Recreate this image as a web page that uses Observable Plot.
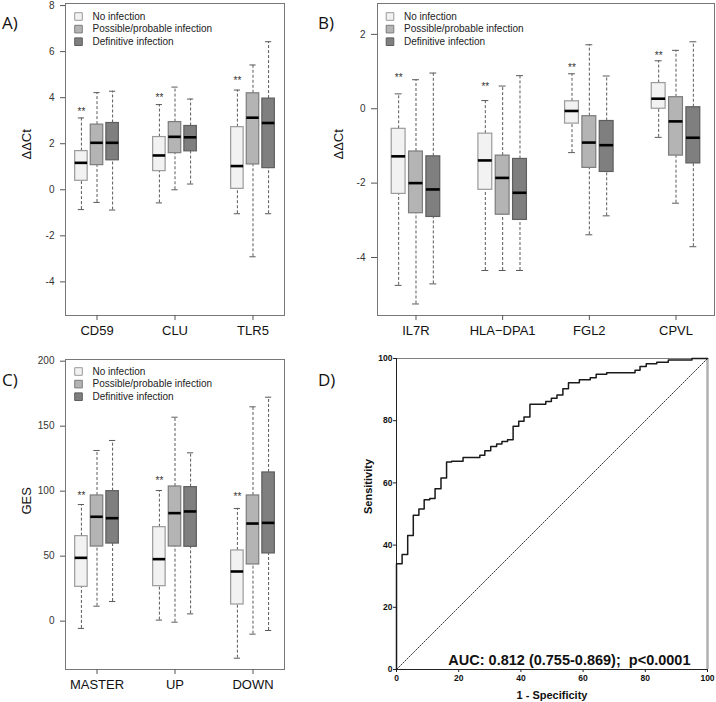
<!DOCTYPE html>
<html>
<head>
<meta charset="utf-8">
<script src="https://cdn.jsdelivr.net/npm/d3@7"></script>
<script src="https://cdn.jsdelivr.net/npm/@observablehq/plot@0.6"></script>
<style>
  html, body { margin: 0; padding: 0; background: #fff; }
  #page { position: relative; width: 716px; height: 702px; background: #fff; overflow: hidden; }
  .panel { position: absolute; }
  .plabel { position: absolute; font-family: "Open Sans", "Noto Sans", sans-serif; font-size: 17px; color: #111; line-height: 1; }
</style>
</head>
<body>
<div id="page"></div>
<script>
// ---------- data ----------
const groups = ["No infection", "Possible/probable infection", "Definitive infection"];
const groupFill = ["#f2f2f2", "#b4b4b4", "#7f7f7f"];
const groupBorder = ["#9a9a9a", "#7c7c7c", "#5e5e5e"];

// Panel A (gene-major, groups in order)
const genesA = ["CD59", "CLU", "TLR5"];
const aMin = [-0.86, -0.55, -0.88, -0.57, 0.00, 0.25, -1.04, -2.91, -1.04];
const aQ1  = [0.39, 1.07, 1.28, 0.81, 1.59, 1.67, 0.04, 1.10, 0.94];
const aMed = [1.17, 2.04, 2.04, 1.49, 2.30, 2.28, 1.03, 3.13, 2.90];
const aQ3  = [1.68, 2.83, 2.90, 2.29, 2.94, 2.77, 2.72, 4.19, 3.96];
const aMax = [3.12, 4.22, 4.28, 3.70, 4.46, 3.94, 4.33, 5.42, 6.43];
const aStar = [3.52, 4.13, 4.87];
const aTicks = [-4, -2, 0, 2, 4, 6, 8];

// Panel B
const genesB = ["IL7R", "HLA\u2212DPA1", "FGL2", "CPVL"];
const bMin = [-4.75, -5.25, -4.71, -4.35, -4.35, -4.35, -1.18, -3.39, -2.88, -0.77, -2.54, -3.71];
const bQ1  = [-2.29, -2.81, -2.91, -2.18, -2.85, -2.99, -0.40, -1.59, -1.70, 0.00, -1.26, -1.47];
const bMed = [-1.28, -2.00, -2.17, -1.39, -1.86, -2.26, -0.06, -0.91, -0.98, 0.27, -0.34, -0.78];
const bQ3  = [-0.54, -1.15, -1.28, -0.67, -1.26, -1.35, 0.20, -0.20, -0.33, 0.69, 0.31, 0.04];
const bMax = [0.40, 0.78, 0.96, 0.22, 0.61, 0.89, 0.94, 1.72, 0.88, 1.29, 1.57, 1.80];
const bStar = [0.92, 0.67, 1.17, 1.51];
const bTicks = [-4, -2, 0, 2];

// Panel C
const genesC = ["MASTER", "UP", "DOWN"];
const cMin = [-5.6, 11.5, 15.1, 0.8, -0.8, 5.6, -28.5, -10.0, -7.2];
const cQ1  = [26.4, 57.4, 59.7, 26.9, 57.4, 57.2, 12.8, 43.6, 52.1];
const cMed = [48.7, 80.3, 79.2, 47.7, 83.1, 84.4, 38.2, 75.1, 75.6];
const cQ3  = [65.4, 96.7, 100.0, 72.3, 103.6, 103.1, 54.4, 96.7, 114.4];
const cMax = [89.7, 131.3, 139.0, 100.5, 156.9, 129.5, 86.7, 164.9, 172.3];
const cStar = [98.7, 110.3, 97.9];
const cTicks = [0, 50, 100, 150, 200];

// Panel D (ROC step vertices)
const rocFpr = [0, 0, 1.8, 3.6, 5.4, 7.2, 8.9, 10.7, 12.4, 14.3, 16.1, 17.7, 21.4, 26.8, 28.4, 30.3, 32.2, 33.9, 35.7, 37.5, 39.3, 41.0, 42.9, 48.0, 49.8, 51.6, 53.5, 55.3, 58.8, 62.3, 64.2, 67.6, 76.7, 78.3, 80.3, 83.7, 87.4, 95.0, 100];
const rocTpr = [0, 34.0, 37.0, 43.1, 49.6, 51.6, 54.6, 55.0, 58.1, 61.6, 66.7, 67.0, 68.2, 68.9, 70.3, 71.7, 72.5, 73.3, 73.9, 78.2, 79.8, 81.2, 85.3, 86.2, 87.2, 88.3, 90.3, 92.2, 93.2, 93.8, 94.9, 95.4, 96.2, 97.4, 98.3, 98.8, 99.5, 100, 100];
const diag = [0, 100];
const dTicks = [0, 20, 40, 60, 80, 100];
const aucText = "AUC: 0.812 (0.755-0.869);  p<0.0001";

// ---------- helpers ----------
const FONT = "'Liberation Sans', Arial, Helvetica, sans-serif";
const page = document.getElementById("page");

function place(el, left, top) {
  const wrap = document.createElement("div");
  wrap.className = "panel";
  wrap.style.left = left + "px";
  wrap.style.top = top + "px";
  wrap.appendChild(el);
  page.appendChild(wrap);
}
function label(txt, left, top) {
  const d = document.createElement("div");
  d.className = "plabel";
  d.textContent = txt;
  d.style.left = left + "px";
  d.style.top = top + "px";
  page.appendChild(d);
}

function boxPanel(cfg) {
  const rows = [];
  cfg.genes.forEach((g, gi) => groups.forEach((s, si) => {
    const k = gi * 3 + si;
    rows.push({gene: g, group: s, pos: gi * 5 + si + 1,
      min: cfg.min[k], q1: cfg.q1[k], med: cfg.med[k], q3: cfg.q3[k], max: cfg.max[k]});
  }));
  const starRows = cfg.genes.map((g, gi) => ({gene: g, pos: gi * 5 + 1, y: cfg.star[gi]}));
  const geneTicks = cfg.genes.map((g, gi) => gi * 5 + 2);
  const n = cfg.genes.length * 5 - 2;
  const pad = n * 0.04;
  const hw = 0.4, sw = 0.2;
  const whisk = {stroke: "#5a5a5a", strokeWidth: 1, strokeDasharray: "3,2"};
  const marks = [
    Plot.frame({stroke: "#777"}),
    Plot.axisY({ticks: cfg.yTicks, label: null, tickSize: cfg.tickSize, tickPadding: cfg.tickPadding, fontSize: 10, stroke: "#555", fill: "#333",
      tickFormat: d => d < 0 ? "-" + Math.abs(d) : String(d)}),
    Plot.axisX({ticks: geneTicks, label: null, tickSize: 5, tickPadding: 5, fontSize: 13, stroke: "#555", fill: "#111",
      tickFormat: d => cfg.genes[Math.round((d - 2) / 5)]}),
    Plot.ruleX(rows, {x: "pos", y1: "min", y2: "q1", ...whisk}),
    Plot.ruleX(rows, {x: "pos", y1: "q3", y2: "max", ...whisk}),
    Plot.ruleY(rows, {y: "min", x1: d => d.pos - sw, x2: d => d.pos + sw, stroke: "#5a5a5a"}),
    Plot.ruleY(rows, {y: "max", x1: d => d.pos - sw, x2: d => d.pos + sw, stroke: "#5a5a5a"}),
    ...groups.map((g, i) => Plot.rect(rows.filter(r => r.group === g), {
      x1: d => d.pos - hw, x2: d => d.pos + hw, y1: "q1", y2: "q3",
      fill: groupFill[i], stroke: groupBorder[i], strokeWidth: 1.2})),
    Plot.ruleY(rows, {y: "med", x1: d => d.pos - hw, x2: d => d.pos + hw, stroke: "#000", strokeWidth: 2.6}),
    Plot.text(starRows, {x: "pos", y: "y", text: () => "**", fontSize: 10, fill: "#333", lineAnchor: "middle", dy: 3}),
    ...groups.map((g, i) => Plot.dot([g], {frameAnchor: "top-left", dx: cfg.legDx, dy: cfg.legDy + i * 12.6,
      symbol: "square", r: 4.3, fill: groupFill[i], stroke: groupBorder[i], strokeWidth: 1})),
    ...groups.map((g, i) => Plot.text([g], {frameAnchor: "top-left", dx: cfg.legDx + 14, dy: cfg.legDy + i * 12.6,
      text: d => d, textAnchor: "start", lineAnchor: "middle", fontSize: 10, fill: "#222"})),
    Plot.text([cfg.yTitle], {frameAnchor: "left", dx: -39, rotate: -90, text: d => d, fontSize: 13, fill: "#111", lineAnchor: "middle"})
  ];
  return Plot.plot({
    width: cfg.width, height: cfg.height,
    marginLeft: cfg.ml, marginRight: cfg.mr, marginTop: cfg.mt, marginBottom: cfg.mb,
    x: {domain: [0.5 - pad, n + 0.5 + pad], axis: null, label: null},
    y: {domain: cfg.yDomain, axis: null, label: null},
    style: {fontFamily: FONT, fontSize: "10px", color: "#333", background: "transparent", overflow: "visible"},
    marks
  });
}

// ---------- panels ----------
place(boxPanel({genes: genesA, min: aMin, q1: aQ1, med: aMed, q3: aQ3, max: aMax, star: aStar,
  yTicks: aTicks, yDomain: [-5.46, 8.09], yTitle: "\u0394\u0394Ct",
  width: 300, height: 345, ml: 65, mr: 16, mt: 3, mb: 30, tickSize: 5, tickPadding: 6,
  legDx: 13, legDy: 13}), 0, 0);

place(boxPanel({genes: genesB, min: bMin, q1: bQ1, med: bMed, q3: bQ3, max: bMax, star: bStar,
  yTicks: bTicks, yDomain: [-5.56, 2.83], yTitle: "\u0394\u0394Ct",
  width: 401, height: 345, ml: 62, mr: 2, mt: 3, mb: 30, tickSize: 6, tickPadding: 6,
  legDx: 12.5, legDy: 13}), 315, 0);

place(boxPanel({genes: genesC, min: cMin, q1: cQ1, med: cMed, q3: cQ3, max: cMax, star: cStar,
  yTicks: cTicks, yDomain: [-37.2, 201.3], yTitle: "GES",
  width: 300, height: 357, ml: 65, mr: 16, mt: 14, mb: 33, tickSize: 5, tickPadding: 6,
  legDx: 13, legDy: 12}), 0, 345);

const roc = rocFpr.map((x, i) => ({fpr: x, tpr: rocTpr[i]}));
const rocPlot = Plot.plot({
  width: 358, height: 357, marginLeft: 38, marginRight: 9, marginTop: 13, marginBottom: 33,
  x: {domain: [0, 100], axis: null, label: null},
  y: {domain: [0, 100], axis: null, label: null},
  style: {fontFamily: FONT, fontSize: "10px", color: "#111", background: "transparent", overflow: "visible"},
  marks: [
    Plot.frame({stroke: "#808080"}),
    Plot.ruleX([100], {stroke: "#b0b0b0", strokeWidth: 2.5}),
    Plot.ruleX([0], {stroke: "#222", strokeWidth: 1}),
    Plot.ruleY([0], {stroke: "#222", strokeWidth: 1}),
    Plot.axisY({ticks: dTicks, label: null, tickSize: 3, tickPadding: 1, fontSize: 8.5, fontWeight: "bold", stroke: "#222", fill: "#111"}),
    Plot.axisX({ticks: dTicks, label: null, tickSize: 3, tickPadding: 2, fontSize: 8.5, fontWeight: "bold", stroke: "#222", fill: "#111"}),
    Plot.line(diag, {x: d => d, y: d => d, stroke: "#222", strokeWidth: 0.9, strokeDasharray: "1.5,1.5"}),
    Plot.line(roc, {x: "fpr", y: "tpr", curve: "step-after", stroke: "#1a1a1a", strokeWidth: 1.5}),
    Plot.text([aucText], {frameAnchor: "bottom-right", dx: -17, dy: -9, text: d => d, textAnchor: "end", lineAnchor: "middle",
      fontSize: 14.5, fontWeight: "bold", fill: "#111"}),
    Plot.text(["Sensitivity"], {frameAnchor: "left", dx: -28, rotate: -90, text: d => d, fontSize: 11, fontWeight: "bold", fill: "#111", lineAnchor: "middle"}),
    Plot.text(["1 - Specificity"], {frameAnchor: "bottom", dy: 26, text: d => d, fontSize: 11, fontWeight: "bold", fill: "#111", lineAnchor: "middle"})
  ]
});
place(rocPlot, 358, 345);

// panel letters
label("A)", 2, 14);
label("B)", 318, 14);
label("C)", 2, 371);
label("D)", 318, 371);
</script>
</body>
</html>
